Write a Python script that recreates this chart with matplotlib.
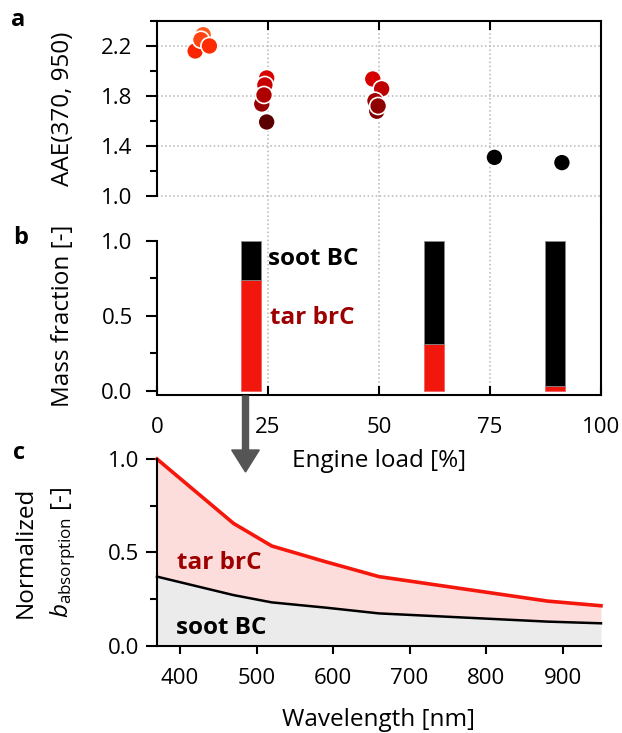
import numpy as np
import matplotlib
matplotlib.use('Agg')
from matplotlib import pyplot as plt
from matplotlib.colors import LinearSegmentedColormap, Normalize
from matplotlib.patches import FancyArrow

plt.rcParams['font.family'] = ['Open Sans', 'DejaVu Sans']
plt.rcParams['font.size'] = 17.5
plt.rcParams['xtick.labelsize'] = 16
plt.rcParams['ytick.labelsize'] = 16
plt.rcParams['mathtext.fontset'] = 'custom'
plt.rcParams['mathtext.rm'] = 'Open Sans'
plt.rcParams['mathtext.it'] = 'Open Sans:italic'
plt.rcParams['axes.linewidth'] = 1.5

# panel a: AAE vs engine load
engine_load = [8.6, 10.4, 9.9, 11.8,
               24.7, 24.3, 23.6, 24.7, 24.1,
               48.6, 50.6, 49.5, 49.1, 49.8,
               76.0, 91.2]
aae = [2.16, 2.29, 2.25, 2.20,
       1.944, 1.888, 1.736, 1.592, 1.808,
       1.936, 1.857, 1.678, 1.762, 1.72,
       1.309, 1.267]

# panel b: mass fractions
bar_load = [21.2, 62.4, 89.6]
tar_frac = [0.742, 0.311, 0.03]
soot_frac = [1 - t for t in tar_frac]

# panel c: normalized absorption spectra
wavelength = [370, 470, 520, 590, 660, 880, 950]
b_total = [1.0, 0.655, 0.534, 0.45, 0.37, 0.239, 0.214]
b_soot = [0.37, 0.271, 0.232, 0.204, 0.173, 0.129, 0.12]

tar_red = '#f2170d'
dark_red = '#9e0000'
grid_kw = dict(ls=':', color='#b5b5b5', lw=1.1)

fig = plt.figure(figsize=(6.22, 7.33), dpi=100)
ax_a = fig.add_axes([0.2524, 0.6985, 0.7138, 0.2729])
ax_b = fig.add_axes([0.2524, 0.4611, 0.7138, 0.2374])
ax_c = fig.add_axes([0.2524, 0.1191, 0.7138, 0.2547])
ax_c.set_facecolor('none')

# ---- panel a
cmap = LinearSegmentedColormap.from_list('aae', [(0.0, '#000000'), (0.3, '#5e0000'),
                                                 (0.45, '#9c0000'), (0.65, '#dc0000'),
                                                 (0.9, '#ff2a00'), (1.0, '#ff5c24')])
ax_a.scatter(engine_load, aae, c=aae, cmap=cmap, norm=Normalize(1.3, 2.3),
             s=150, edgecolors='white', linewidths=1.2, zorder=3, clip_on=False)
ax_a.set_xlim(0, 100)
ax_a.set_ylim(0.8, 2.4)
ax_a.set_yticks([1.0, 1.4, 1.8, 2.2])
ax_a.set_yticks([1.2, 1.6, 2.0, 2.4], minor=True)
ax_a.set_xticks([25, 50, 75])
ax_a.xaxis.tick_top()
ax_a.tick_params(axis='x', direction='in', length=6.5, width=1.5, labeltop=False)
ax_a.tick_params(axis='y', which='major', length=8, width=1.5, pad=9.5)
ax_a.tick_params(axis='y', which='minor', length=5, width=1.5)
ax_a.spines['bottom'].set_visible(False)
ax_a.spines['left'].set_bounds(1.0, 2.4)
ax_a.grid(True, which='major', **grid_kw)
ax_a.set_axisbelow(True)
ax_a.set_ylabel('AAE(370, 950)')
ax_a.yaxis.set_label_coords(-0.185, 0.5625)

# ---- panel b
ax_b.bar(bar_load, tar_frac, width=4.6, color=tar_red, edgecolor='#f06060', linewidth=0.6, zorder=2)
ax_b.bar(bar_load, soot_frac, bottom=tar_frac, width=4.6, color='black',
         edgecolor='#888888', linewidth=0.6, zorder=2)
for xg in [25, 50, 75]:
    ax_b.axvline(xg, zorder=1, **grid_kw)
ax_b.set_xlim(0, 100)
ax_b.set_ylim(-0.027, 1.133)
ax_b.set_xticks([0, 25, 50, 75, 100])
ax_b.set_yticks([0.0, 0.5, 1.0])
ax_b.set_yticks([0.25, 0.75], minor=True)
ax_b.tick_params(axis='x', direction='in', length=6.5, width=1.5, pad=16)
ax_b.tick_params(axis='y', which='major', length=8, width=1.5, pad=9.5)
ax_b.tick_params(axis='y', which='minor', length=5, width=1.5)
ax_b.spines['top'].set_visible(False)
ax_b.spines['left'].set_bounds(0, 1.0)
ax_b.set_xlabel('Engine load [%]', labelpad=8)
ax_b.set_ylabel('Mass fraction [-]')
ax_b.yaxis.set_label_coords(-0.185, 0.454)
ax_b.text(25.0, 0.88, 'soot BC', fontweight='bold', color='black', va='center', ha='left')
ax_b.text(25.5, 0.487, 'tar brC', fontweight='bold', color=dark_red, va='center', ha='left')

# arrow from panel b to panel c
fig.add_artist(FancyArrow(245.5 / 622, 1 - 396 / 733, 0, -(472 - 396) / 733,
                          width=6 / 622, head_width=27.6 / 622, head_length=22 / 733,
                          length_includes_head=True, color='#555555',
                          transform=fig.transFigure))

# ---- panel c
zeros = np.zeros(len(wavelength))
ax_c.fill_between(wavelength, zeros, b_soot, color='#ebebeb', lw=0)
ax_c.fill_between(wavelength, b_soot, b_total, color='#fddcdc', lw=0)
ax_c.plot(wavelength, b_soot, color='black', lw=1.8, clip_on=False)
ax_c.plot(wavelength, b_total, color='#f5160c', lw=2.6, clip_on=False)
ax_c.set_xlim(370, 950)
ax_c.set_ylim(0, 1.0)
ax_c.set_xticks([400, 500, 600, 700, 800, 900])
ax_c.set_yticks([0.0, 0.5, 1.0])
ax_c.set_yticks([0.25, 0.75], minor=True)
ax_c.tick_params(axis='x', length=5.5, width=1.5, pad=10.5)
ax_c.tick_params(axis='y', which='major', length=8, width=1.5, pad=5)
ax_c.tick_params(axis='y', which='minor', length=5, width=1.5)
ax_c.spines['top'].set_visible(False)
ax_c.spines['right'].set_visible(False)
ax_c.set_xlabel('Wavelength [nm]', labelpad=14)
ax_c.set_ylabel(r'$b_{\mathrm{absorption}}$ [-]')
ax_c.yaxis.set_label_coords(-0.178, 0.5)
ax_c.text(-0.295, 0.5, 'Normalized', rotation=90, transform=ax_c.transAxes,
          ha='center', va='center')
ax_c.text(396, 0.444, 'tar brC', fontweight='bold', color=dark_red, va='center', ha='left')
ax_c.text(395, 0.096, 'soot BC', fontweight='bold', color='black', va='center', ha='left')

# panel letters
fig.text(18 / 622, 1 - 20 / 733, 'a', fontweight='bold', fontsize=17, ha='center', va='center')
fig.text(21 / 622, 1 - 238 / 733, 'b', fontweight='bold', fontsize=17, ha='center', va='center')
fig.text(19 / 622, 1 - 453 / 733, 'c', fontweight='bold', fontsize=17, ha='center', va='center')

fig.savefig('out.png', dpi=100)
